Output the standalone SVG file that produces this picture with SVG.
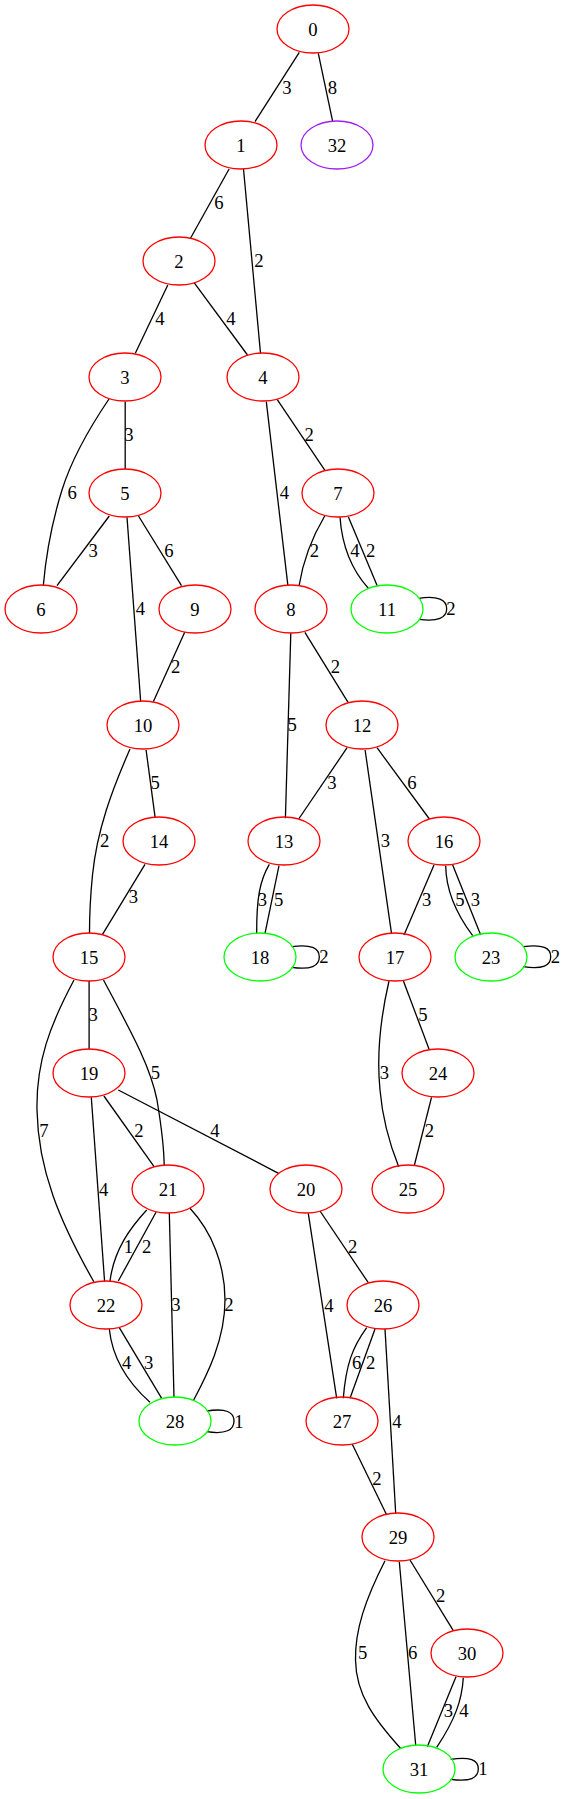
<svg xmlns="http://www.w3.org/2000/svg" width="565" height="1799" viewBox="0 0 565 1799">
<style>
.bg{fill:#ffffff}
ellipse{fill:none;stroke-width:1.3}
.r{stroke:#ff0000}
.g{stroke:#00ff00}
.p{stroke:#a020f0}
text{font-family:"Liberation Serif","Times New Roman",serif;font-size:18.67px;text-anchor:middle;fill:#000000}
#edges path{fill:none;stroke:#000000;stroke-width:1.3}
</style>
<rect class="bg" x="0" y="0" width="565" height="1799"/>
<g id="edges">
<path d="M299.3,52.3 L255,121.7"/><text x="287" y="93.8">3</text>
<path d="M318.3,53.3 L332.7,121.7"/><text x="332.3" y="93.8">8</text>
<path d="M229.1,169 L190.5,238.3"/><text x="219" y="208.8">6</text>
<path d="M243.5,169 L260.5,353.3"/><text x="259" y="267.2">2</text>
<path d="M167.8,285 L135.3,353.3"/><text x="159.8" y="324.8">4</text>
<path d="M194.1,282.7 L247.5,355"/><text x="230.9" y="324.8">4</text>
<path d="M125.2,401.7 L125.2,469.3"/><text x="129" y="440.5">3</text>
<path d="M109,399 C88,430 72,458 62,490 C52,522 46,555 43.3,585.7"/><text x="72.2" y="499.2">6</text>
<path d="M109.3,516 L57,585.7"/><text x="93.1" y="556.5">3</text>
<path d="M127,517.3 L140.7,701.7"/><text x="140.5" y="614.8">4</text>
<path d="M138.5,516 L181.5,585.7"/><text x="168.9" y="556.5">6</text>
<path d="M266.3,401.7 L287.9,585.7"/><text x="284.5" y="499.2">4</text>
<path d="M277.1,399.3 L325.1,470.7"/><text x="309.2" y="440.5">2</text>
<path d="M324.7,516 C314,534 304,555 299,586"/><text x="314.3" y="556.5">2</text>
<path d="M340,517.3 C342,545 350,568 368.3,588.3"/><text x="355" y="556.5">4</text>
<path d="M348.3,516.7 L377.3,586"/><text x="370.7" y="556.5">2</text>
<path d="M419,598.3 C438,595.5 446.7,600 446.7,608.8 C446.7,617.5 438,622 419,619.3"/><text x="451" y="614.8">2</text>
<path d="M184.7,632.3 L153.3,701.7"/><text x="175.7" y="673.2">2</text>
<path d="M290.8,633.3 L285.4,818.3"/><text x="292.2" y="730.5">5</text>
<path d="M304.9,632.3 L348.2,702.7"/><text x="335.5" y="673.2">2</text>
<path d="M130,749 C112,790 97,830 92.5,875 C90,900 89.5,915 89.5,933.3"/><text x="104.6" y="846.5">2</text>
<path d="M146.1,750 L155.1,817.3"/><text x="155.1" y="789.2">5</text>
<path d="M145,864.3 L102.5,934.3"/><text x="133.5" y="903.2">3</text>
<path d="M347.1,747.7 L298.7,819"/><text x="331.9" y="789.2">3</text>
<path d="M365.1,750 L391.5,933.3"/><text x="385.3" y="846.5">3</text>
<path d="M377,747.7 L429.4,819"/><text x="412" y="789.2">6</text>
<path d="M269.3,864.3 C260,880 256.5,898 256.7,933.3"/><text x="262.3" y="905.5">3</text>
<path d="M279,865.7 L265,933.3"/><text x="278.7" y="905.5">5</text>
<path d="M291.7,946.7 C311,944 319.3,948 319.3,957 C319.3,966 311,970 291.7,967.3"/><text x="324" y="963.2">2</text>
<path d="M434,865 L404,935"/><text x="426.7" y="905.5">3</text>
<path d="M445.7,865.7 C446,890 455,912 472.7,935.7"/><text x="460" y="905.5">5</text>
<path d="M452.7,865 L480.7,935"/><text x="475.3" y="905.5">3</text>
<path d="M523.3,946.7 C543,944 550.7,948 550.7,956.7 C550.7,965.5 543,969.5 523.3,966.7"/><text x="555.5" y="963.2">2</text>
<path d="M89.1,981 L89.1,1049.3"/><text x="93.1" y="1020.8">3</text>
<path d="M103.5,980 C130,1030 150,1065 157,1100 C162,1130 164,1150 164.2,1165.7"/><text x="155.5" y="1079.2">5</text>
<path d="M74,980 C50,1025 36,1062 37,1110 C38,1170 60,1222 93.8,1281.7"/><text x="44" y="1136.5">7</text>
<path d="M91.3,1097.3 L104.6,1281.7"/><text x="103.6" y="1195.5">4</text>
<path d="M103.9,1096 L154.1,1166.7"/><text x="138.9" y="1136.5">2</text>
<path d="M118.3,1090 L278.5,1173.3"/><text x="215" y="1136.5">4</text>
<path d="M403.4,981 L429.4,1050"/><text x="422.9" y="1020.8">5</text>
<path d="M389,981 C380,1020 377,1060 380,1090 C383,1125 392,1150 398.7,1166.7"/><text x="384.3" y="1079.2">3</text>
<path d="M431.5,1097.3 L414.2,1166"/><text x="429.4" y="1136.5">2</text>
<path d="M146.7,1210 C130,1228 114,1250 110,1281"/><text x="128.3" y="1253.2">1</text>
<path d="M156,1212.3 L118.3,1281"/><text x="146.7" y="1253.2">2</text>
<path d="M169.3,1212.7 L174,1397.3"/><text x="176" y="1310.5">3</text>
<path d="M190,1208.3 C212,1232 225,1265 225,1300 C225,1340 207,1375 193.3,1400.7"/><text x="229" y="1310.5">2</text>
<path d="M109.3,1329 C112,1355 125,1380 150,1402.3"/><text x="126.7" y="1368.8">4</text>
<path d="M119.3,1327.7 L161.7,1398.3"/><text x="148.7" y="1368.8">3</text>
<path d="M206.7,1411 C226,1408 234,1412 234,1421 C234,1430 226,1434.5 206.7,1431.7"/><text x="239" y="1427.5">1</text>
<path d="M308.3,1213.3 L336.7,1398.3"/><text x="329" y="1311.5">4</text>
<path d="M320,1211 L368.3,1282.7"/><text x="352.7" y="1253.2">2</text>
<path d="M366.7,1327.7 C352,1348 346,1365 343.3,1398.3"/><text x="356.7" y="1368.8">6</text>
<path d="M375,1329 L350,1398.3"/><text x="370.7" y="1368.8">2</text>
<path d="M385,1329 L395.7,1513.3"/><text x="397" y="1427.5">4</text>
<path d="M352.3,1444.3 L386.7,1515"/><text x="377" y="1484.8">2</text>
<path d="M385,1560.7 C365,1600 355,1630 355.5,1660 C356,1695 375,1720 400.5,1748.3"/><text x="362.6" y="1659.2">5</text>
<path d="M399.3,1561.7 L415.7,1745"/><text x="412.7" y="1659.2">6</text>
<path d="M410,1560 L453.3,1630.7"/><text x="440.7" y="1601.5">2</text>
<path d="M456,1676.7 L427.3,1746.7"/><text x="448.3" y="1716.5">3</text>
<path d="M463.3,1677.7 C462,1700 455,1720 436.7,1747.3"/><text x="464" y="1716.5">4</text>
<path d="M450.7,1759.3 C470,1756.5 478.3,1760 478.3,1769 C478.3,1778 470,1782 450.7,1779.3"/><text x="483" y="1775">1</text>
</g>
<g id="node0"><ellipse class="r" cx="313" cy="29" rx="36" ry="24"/><text x="313" y="35.5">0</text></g>
<g id="node1"><ellipse class="r" cx="241" cy="145" rx="36" ry="24"/><text x="241" y="151.5">1</text></g>
<g id="node32"><ellipse class="p" cx="337" cy="145" rx="36" ry="24"/><text x="337" y="151.5">32</text></g>
<g id="node2"><ellipse class="r" cx="179" cy="261" rx="36" ry="24"/><text x="179" y="267.5">2</text></g>
<g id="node3"><ellipse class="r" cx="125" cy="377" rx="36" ry="24"/><text x="125" y="383.5">3</text></g>
<g id="node4"><ellipse class="r" cx="263" cy="377" rx="36" ry="24"/><text x="263" y="383.5">4</text></g>
<g id="node5"><ellipse class="r" cx="125" cy="493" rx="36" ry="24"/><text x="125" y="499.5">5</text></g>
<g id="node7"><ellipse class="r" cx="338" cy="493" rx="36" ry="24"/><text x="338" y="499.5">7</text></g>
<g id="node6"><ellipse class="r" cx="41" cy="609" rx="36" ry="24"/><text x="41" y="615.5">6</text></g>
<g id="node9"><ellipse class="r" cx="195" cy="609" rx="36" ry="24"/><text x="195" y="615.5">9</text></g>
<g id="node8"><ellipse class="r" cx="291" cy="609" rx="36" ry="24"/><text x="291" y="615.5">8</text></g>
<g id="node11"><ellipse class="g" cx="387" cy="609" rx="36" ry="24"/><text x="387" y="615.5">11</text></g>
<g id="node10"><ellipse class="r" cx="143" cy="725" rx="36" ry="24"/><text x="143" y="731.5">10</text></g>
<g id="node12"><ellipse class="r" cx="362" cy="725" rx="36" ry="24"/><text x="362" y="731.5">12</text></g>
<g id="node14"><ellipse class="r" cx="159" cy="841" rx="36" ry="24"/><text x="159" y="847.5">14</text></g>
<g id="node13"><ellipse class="r" cx="284" cy="841" rx="36" ry="24"/><text x="284" y="847.5">13</text></g>
<g id="node16"><ellipse class="r" cx="444" cy="841" rx="36" ry="24"/><text x="444" y="847.5">16</text></g>
<g id="node15"><ellipse class="r" cx="89" cy="957" rx="36" ry="24"/><text x="89" y="963.5">15</text></g>
<g id="node18"><ellipse class="g" cx="260" cy="957" rx="36" ry="24"/><text x="260" y="963.5">18</text></g>
<g id="node17"><ellipse class="r" cx="395" cy="957" rx="36" ry="24"/><text x="395" y="963.5">17</text></g>
<g id="node23"><ellipse class="g" cx="491" cy="957" rx="36" ry="24"/><text x="491" y="963.5">23</text></g>
<g id="node19"><ellipse class="r" cx="89" cy="1073" rx="36" ry="24"/><text x="89" y="1079.5">19</text></g>
<g id="node24"><ellipse class="r" cx="438" cy="1073" rx="36" ry="24"/><text x="438" y="1079.5">24</text></g>
<g id="node21"><ellipse class="r" cx="168" cy="1189" rx="36" ry="24"/><text x="168" y="1195.5">21</text></g>
<g id="node20"><ellipse class="r" cx="306" cy="1189" rx="36" ry="24"/><text x="306" y="1195.5">20</text></g>
<g id="node25"><ellipse class="r" cx="408" cy="1189" rx="36" ry="24"/><text x="408" y="1195.5">25</text></g>
<g id="node22"><ellipse class="r" cx="106" cy="1305" rx="36" ry="24"/><text x="106" y="1311.5">22</text></g>
<g id="node26"><ellipse class="r" cx="383" cy="1305" rx="36" ry="24"/><text x="383" y="1311.5">26</text></g>
<g id="node28"><ellipse class="g" cx="175" cy="1421" rx="36" ry="24"/><text x="175" y="1427.5">28</text></g>
<g id="node27"><ellipse class="r" cx="342" cy="1421" rx="36" ry="24"/><text x="342" y="1427.5">27</text></g>
<g id="node29"><ellipse class="r" cx="398" cy="1537" rx="36" ry="24"/><text x="398" y="1543.5">29</text></g>
<g id="node30"><ellipse class="r" cx="467" cy="1653" rx="36" ry="24"/><text x="467" y="1659.5">30</text></g>
<g id="node31"><ellipse class="g" cx="419" cy="1769" rx="36" ry="24"/><text x="419" y="1775.5">31</text></g>
</svg>
